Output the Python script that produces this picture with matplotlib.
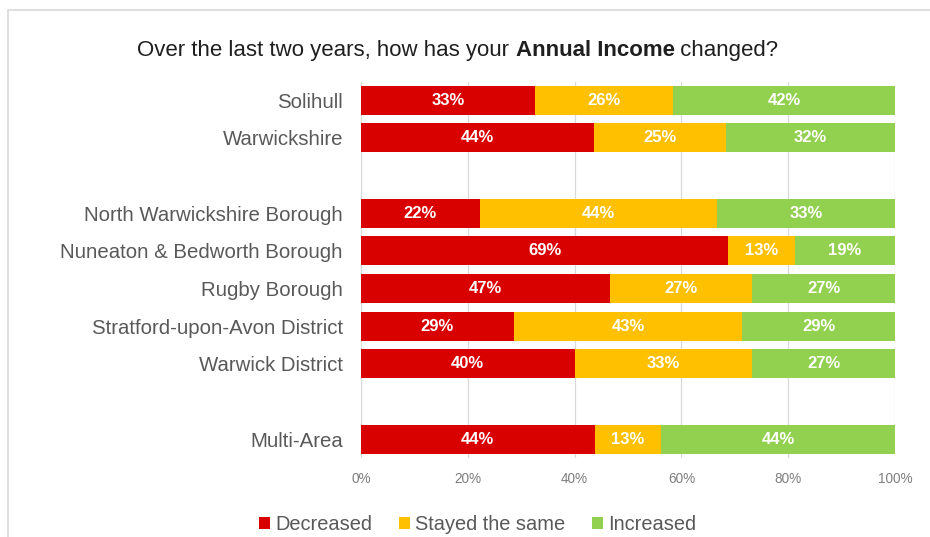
import numpy as np
import matplotlib

matplotlib.use("Agg")
import matplotlib.pyplot as plt
from matplotlib.patches import Patch, Rectangle

plt.rcParams["font.family"] = ["Liberation Sans", "DejaVu Sans"]

# survey shares (%) per area, grouped as drawn top to bottom
groups = [
    ["Solihull", "Warwickshire"],
    ["North Warwickshire Borough", "Nuneaton & Bedworth Borough", "Rugby Borough",
     "Stratford-upon-Avon District", "Warwick District"],
    ["Multi-Area"],
]
decreased = [32.6, 43.6, 22.2, 68.75, 46.7, 28.6, 40.0, 43.75]
stayed = [25.8, 24.8, 44.4, 12.5, 26.6, 42.8, 33.3, 12.5]
increased = [41.6, 31.6, 33.4, 18.75, 26.7, 28.6, 26.7, 43.75]

series = ["Decreased", "Stayed the same", "Increased"]
colors = ["#D90000", "#FFC000", "#92D050"]

# one empty slot between groups
labels, ypos = [], []
slot = 0
for g in groups:
    for name in g:
        labels.append(name)
        ypos.append(slot)
        slot += 1
    slot += 1
n_slots = slot - 1

fig = plt.figure(figsize=(9.30, 5.37), dpi=100)
ax = fig.add_axes([361 / 930, 1 - 458 / 537, 534 / 930, 376.5 / 537])

left = np.zeros(len(labels))
for vals, name, col in zip([decreased, stayed, increased], series, colors):
    vals = np.array(vals)
    bars = ax.barh(ypos, vals, left=left, height=0.77, color=col, label=name, zorder=2)
    ax.bar_label(bars, labels=[f"{int(v + 0.5)}%" for v in vals], label_type="center",
                 color="white", fontsize=12, fontweight="bold")
    left += vals

ax.set_xlim(0, 100)
ax.set_ylim(n_slots - 0.5, -0.5)
ax.set_xticks(np.arange(0, 101, 20))
ax.set_xticklabels([f"{t}%" for t in range(0, 101, 20)])
ax.set_yticks(ypos)
ax.set_yticklabels(labels)
ax.tick_params(axis="y", length=0, pad=13, labelsize=14.7, labelcolor="#595959")
ax.tick_params(axis="x", length=0, pad=10, labelsize=9.8, labelcolor="#7F7F7F")
ax.grid(axis="x", color="#D9D9D9", lw=0.9, zorder=0)
for s in ax.spines.values():
    s.set_visible(False)

# title with a bold phrase in the middle
parts = [("Over the last two years, how has your ", "normal"),
         ("Annual Income", "bold"),
         (" changed?", "normal")]
fig.canvas.draw()
renderer = fig.canvas.get_renderer()
texts = []
for txt, w in parts:
    t = fig.text(0, 1 - 56 / 537, txt, fontsize=16, fontweight=w, color="#1F1F1F", va="baseline")
    texts.append(t)
widths = [t.get_window_extent(renderer).width for t in texts]
x = 458 - sum(widths) / 2
for t, w in zip(texts, widths):
    t.set_x(x / 930)
    x += w

handles = [Patch(facecolor=c, label=s) for c, s in zip(colors, series)]
fig.legend(handles=handles, loc="center", bbox_to_anchor=(477.5 / 930, 1 - 525 / 537), ncol=3,
           frameon=False, fontsize=14.4, labelcolor="#595959", handlelength=0.55,
           handleheight=0.55, handletextpad=0.25, columnspacing=1.35, borderpad=0)

# chart area outline
fig.patches.append(Rectangle((8 / 930, -0.1), 1.2, 1 - 10 / 537 + 0.1, transform=fig.transFigure,
                             fill=False, edgecolor="#D9D9D9", lw=1.2))

fig.savefig("out.png", dpi=100)
